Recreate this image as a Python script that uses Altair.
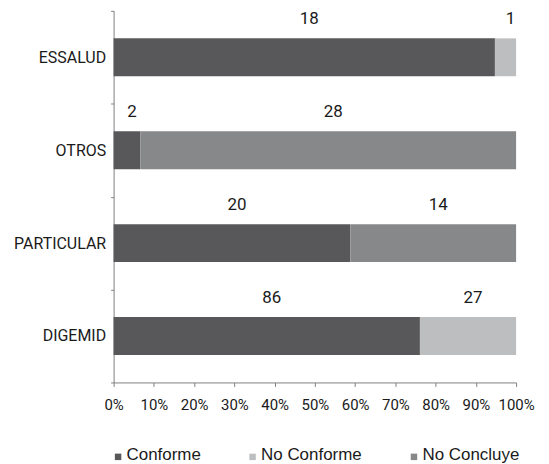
import altair as alt
import pandas as pd

categories = ["ESSALUD", "OTROS", "PARTICULAR", "DIGEMID"]
series = ["Conforme", "No Conforme", "No Concluye"]
conforme = [18, 2, 20, 86]
no_conforme = [1, 0, 0, 27]
no_concluye = [0, 28, 14, 0]
colors = ["#58585a", "#bdbebf", "#87888a"]
tick_values = [0, 0.1, 0.2, 0.3, 0.4, 0.5, 0.6, 0.7, 0.8, 0.9, 1.0]

COND = "Roboto"
REG = "Liberation Sans"
TXT = "#1a1a1a"
AX = "#808080"

rows = []
for i, cat in enumerate(categories):
    vals = [conforme[i], no_conforme[i], no_concluye[i]]
    total = sum(vals)
    cum = 0
    for k, (s, v) in enumerate(zip(series, vals)):
        if v == 0:
            continue
        rows.append(dict(cat=cat, serie=s, value=v, start=cum / total,
                         end=(cum + v) / total, mid=(cum + v / 2) / total, order=k))
        cum += v
df = pd.DataFrame(rows)

y_enc = alt.Y("cat:N", sort=categories,
              scale=alt.Scale(paddingInner=0, paddingOuter=0),
              axis=alt.Axis(title=None, tickBand="extent", tickSize=3, labelPadding=5,
                            labelFont=COND, labelFontSize=16, labelColor=TXT,
                            domainColor=AX, tickColor=AX, labelLimit=300))

x_scale = alt.Scale(domain=[0, 1], nice=False, zero=True)

bars = alt.Chart(df).mark_bar(size=38).encode(
    x=alt.X("start:Q", scale=x_scale,
            axis=alt.Axis(title=None, values=tick_values, format="%", grid=False,
                          tickSize=4, labelPadding=11, labelFont=COND, labelFontSize=15,
                          labelColor=TXT, domainColor=AX, tickColor=AX, labelFlush=False)),
    x2="end:Q",
    y=y_enc,
    color=alt.Color("serie:N", scale=alt.Scale(domain=series, range=colors),
                    legend=alt.Legend(title=None, orient="none", legendX=-4, legendY=437,
                                      direction="horizontal", symbolType="M-1,-0.4H1V1.6H-1Z",
                                      symbolSize=42, symbolStrokeWidth=0, symbolOpacity=1,
                                      labelFont=REG, labelFontSize=17, labelColor=TXT,
                                      columnPadding=43, labelOffset=0, padding=0)),
    order="order:Q",
)

labels = alt.Chart(df).mark_text(dx=5, dy=-38, font=COND, fontSize=17, color=TXT).encode(
    x=alt.X("mid:Q", scale=x_scale),
    y=alt.Y("cat:N", sort=categories),
    text="value:Q",
)

chart = alt.layer(bars, labels).properties(
    width=404, height=373,
    autosize=alt.AutoSizeParams(type="none"),
    padding={"left": 106, "top": 2, "right": 25, "bottom": 81},
).configure_view(stroke=None)

chart.save("out.html", embed_options={"renderer": "svg", "actions": False})
